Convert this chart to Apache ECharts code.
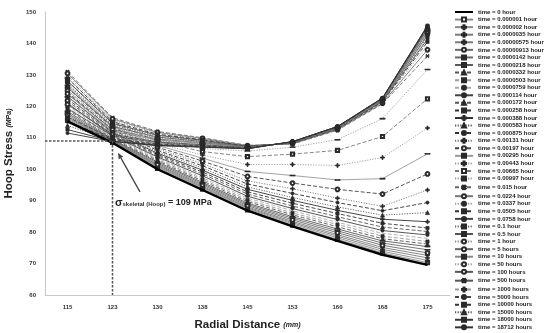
<!DOCTYPE html>
<html>
<head>
<meta charset="utf-8">
<script src="https://cdn.jsdelivr.net/npm/echarts@6/dist/echarts.min.js"></script>
<style>
  html, body { margin: 0; padding: 0; background: #fff; }
  #chart { width: 550px; height: 333px; }
</style>
</head>
<body>
<div id="chart"></div>
<script>
// Radial positions (mm) along the wall
const categories = ['115', '123', '130', '138', '145', '153', '160', '168', '175'];

// Hoop stress (MPa) at each radial position, one array per time step
const t00 = [115.2, 108.4, 100.0, 93.4, 86.8, 81.8, 77.2, 72.8, 69.6];
const t01 = [115.6, 108.5, 100.3, 93.7, 87.1, 82.2, 77.7, 73.4, 70.3];
const t02 = [116.0, 108.6, 100.6, 94.0, 87.4, 82.6, 78.2, 73.9, 71.0];
const t03 = [116.4, 108.7, 100.9, 94.3, 87.7, 83.0, 78.7, 74.5, 71.8];
const t04 = [116.8, 108.8, 101.2, 94.6, 88.0, 83.4, 79.2, 75.1, 72.6];
const t05 = [117.3, 109.0, 101.5, 95.0, 88.4, 83.9, 79.8, 75.8, 73.4];
const t06 = [117.8, 109.2, 101.9, 95.4, 88.8, 84.4, 80.4, 76.5, 74.4];
const t07 = [118.4, 109.4, 102.3, 95.8, 89.2, 84.9, 81.0, 77.2, 75.4];
const t08 = [119.0, 109.7, 102.7, 96.3, 89.7, 85.5, 81.7, 77.9, 76.2];
const t09 = [119.6, 110.0, 103.1, 96.8, 90.2, 86.1, 82.4, 78.7, 77.0];
const t10 = [120.3, 110.3, 103.5, 97.3, 90.8, 86.8, 83.1, 79.6, 78.0];
const t11 = [121.0, 110.6, 103.9, 97.9, 91.4, 87.5, 84.0, 80.5, 79.1];
const t12 = [121.7, 110.9, 104.3, 98.5, 92.1, 88.3, 84.9, 81.6, 80.2];
const t13 = [122.4, 111.3, 104.7, 99.1, 92.8, 89.2, 85.9, 82.8, 81.3];
const t14 = [123.1, 111.7, 105.1, 99.7, 93.6, 90.1, 86.9, 84.1, 83.3];
const t15 = [123.8, 112.1, 105.6, 100.4, 94.4, 91.0, 88.0, 85.4, 86.2];
const t16 = [124.5, 112.5, 106.0, 101.1, 95.3, 92.3, 89.4, 86.8, 89.4];
const t17 = [125.2, 112.9, 106.5, 101.8, 96.3, 93.8, 90.8, 88.2, 93.4];
const t18 = [125.9, 113.3, 107.0, 102.6, 97.7, 95.6, 93.6, 92.1, 98.5];
const t19 = [126.6, 113.7, 107.6, 103.5, 99.3, 98.0, 96.6, 97.0, 104.9];
const t20 = [127.3, 114.2, 108.2, 104.5, 101.5, 101.5, 101.2, 103.7, 113.1];
const t21 = [128.1, 114.8, 108.9, 105.6, 104.0, 104.8, 106.0, 110.4, 122.4];
const t22 = [129.0, 115.4, 109.6, 106.6, 105.8, 107.0, 109.4, 116.1, 131.7];
const t23 = [131.0, 116.4, 112.0, 110.0, 107.6, 108.0, 112.4, 120.8, 136.0];
const t24 = [130.5, 116.0, 111.7, 109.8, 107.5, 108.1, 112.6, 121.0, 138.0];
const t25 = [129.8, 115.6, 111.4, 109.6, 107.4, 108.2, 112.7, 121.2, 139.4];
const t26 = [129.0, 115.1, 111.1, 109.4, 107.3, 108.3, 112.8, 121.4, 140.5];
const t27 = [128.0, 114.6, 110.8, 109.2, 107.3, 108.3, 112.9, 121.6, 141.4];
const t28 = [127.0, 114.1, 110.5, 109.0, 107.2, 108.4, 113.0, 121.7, 142.1];
const t29 = [126.0, 113.6, 110.2, 108.8, 107.1, 108.4, 113.1, 121.8, 142.7];
const t30 = [125.0, 113.1, 109.9, 108.6, 107.0, 108.5, 113.1, 121.9, 143.2];
const t31 = [124.0, 112.6, 109.6, 108.4, 107.0, 108.5, 113.2, 122.0, 143.6];
const t32 = [123.0, 112.1, 109.3, 108.2, 106.9, 108.5, 113.2, 122.1, 144.0];
const t33 = [121.8, 111.6, 109.0, 108.0, 106.9, 108.6, 113.3, 122.2, 144.3];
const t34 = [120.6, 111.1, 108.7, 107.8, 106.8, 108.6, 113.3, 122.3, 144.6];
const t35 = [119.3, 110.6, 108.4, 107.6, 106.8, 108.6, 113.4, 122.4, 144.9];
const t36 = [118.0, 110.2, 108.2, 107.5, 106.7, 108.7, 113.4, 122.4, 145.1];
const t37 = [116.6, 109.8, 108.0, 107.4, 106.7, 108.7, 113.5, 122.5, 145.3];
const t38 = [115.2, 109.4, 107.8, 107.3, 106.6, 108.7, 113.5, 122.5, 145.4];
const t39 = [113.9, 109.1, 107.7, 107.2, 106.6, 108.8, 113.5, 122.6, 145.5];
const t40 = [112.6, 108.9, 107.6, 107.1, 106.5, 108.8, 113.6, 122.6, 145.6];
const t41 = [111.5, 108.8, 107.5, 107.0, 106.5, 108.8, 113.6, 122.7, 145.7];

const seriesValues = [t00, t01, t02, t03, t04, t05, t06, t07, t08, t09, t10, t11, t12, t13,
  t14, t15, t16, t17, t18, t19, t20, t21, t22, t23, t24, t25, t26, t27, t28, t29, t30, t31,
  t32, t33, t34, t35, t36, t37, t38, t39, t40, t41];

// Legend names, in time order
const timeNames = [
  'time = 0 hour', 'time = 0.000001 hour', 'time = 0.000002 hour', 'time = 0.0000035 hour',
  'time = 0.00000575 hour', 'time = 0.00000913 hour', 'time = 0.0000142 hour', 'time = 0.0000218 hour',
  'time = 0.0000332 hour', 'time = 0.0000503 hour', 'time = 0.0000759 hour', 'time = 0.000114 hour',
  'time = 0.000172 hour', 'time = 0.000258 hour', 'time = 0.000388 hour', 'time = 0.000583 hour',
  'time = 0.000875 hour', 'time = 0.00131 hour', 'time = 0.00197 hour', 'time = 0.00295 hour',
  'time = 0.00443 hour', 'time = 0.00665 hour', 'time = 0.00997 hour', 'time = 0.015 hour',
  'time = 0.0224 hour', 'time = 0.0337 hour', 'time = 0.0505 hour', 'time = 0.0758 hour',
  'time = 0.1 hour', 'time = 0.5 hour', 'time = 1 hour', 'time = 5 hours', 'time = 10 hours',
  'time = 50 hours', 'time = 100 hours', 'time = 500 hours', 'time = 1000 hours',
  'time = 5000 hours', 'time = 10000 hours', 'time = 15000 hours', 'time = 18000 hours',
  'time = 18712 hours'
];

// Y axis range
const yMin = 60, yMax = 150, yStep = 10;
// Skeletal point
const skeletalRadius = '123';
const skeletalStress = 109;

// Line / marker look for each time step: [dash, colour, marker]
const styles = [
  ['solid', '#000', 'none'], ['solid', '#8a8a8a', 'emptyRect'], ['solid', '#8a8a8a', 'plus'],
  ['solid', '#7a7a7a', 'plus'], ['solid', '#7a7a7a', 'plus'], ['solid', '#6a6a6a', 'emptyCircle'],
  ['solid', '#6a6a6a', 'dash'], ['solid', '#5a5a5a', 'dash'], ['dashed', '#555', 'triangle'],
  ['dashed', '#999', 'rect'], ['dashed', '#aaa', 'none'], ['solid', '#444', 'circle'],
  ['dashed', '#555', 'triangle'], ['dashed', '#333', 'rect'], ['solid', '#333', 'plus'],
  ['dotted', '#555', 'triangle'], ['dashed', '#333', 'circle'], ['dotted', '#777', 'plus'],
  ['dashed', '#444', 'emptyCircle'], ['solid', '#999', 'dash'], ['dotted', '#999', 'plus'],
  ['dashed', '#777', 'emptyRect'], ['dotted', '#999', 'dash'], ['dashed', '#666', 'cross'],
  ['solid', '#777', 'emptyCircle'], ['dotted', '#999', 'none'], ['dashed', '#333', 'rect'],
  ['solid', '#444', 'circle'], ['dotted', '#666', 'rect'], ['solid', '#555', 'rect'],
  ['dotted', '#888', 'emptyCircle'], ['solid', '#666', 'emptyCircle'], ['solid', '#888', 'dash'],
  ['dotted', '#999', 'emptyCircle'], ['solid', '#555', 'emptyCircle'], ['solid', '#555', 'cross'],
  ['dashed', '#999', 'plus'], ['dashed', '#444', 'circle'], ['dashed', '#333', 'rect'],
  ['dotted', '#555', 'triangle'], ['solid', '#333', 'rect'], ['solid', '#333', 'circle']
];

const PLUS = 'path://M3,0h2v3h3v2h-3v3h-2v-3h-3v-2h3z';
const dashMap = { solid: 'solid', dashed: [4, 2], dotted: [1.2, 1.4] };
function markerOf(kind) {
  switch (kind) {
    case 'plus': return { symbol: PLUS, symbolSize: 4, symbolRotate: 0 };
    case 'cross': return { symbol: PLUS, symbolSize: 4, symbolRotate: 45 };
    case 'dash': return { symbol: 'rect', symbolSize: [4.5, 1.2], symbolRotate: 0 };
    case 'rect': return { symbol: 'rect', symbolSize: 3.2, symbolRotate: 0 };
    case 'emptyRect': return { symbol: 'emptyRect', symbolSize: 3.2, symbolRotate: 0 };
    case 'circle': return { symbol: 'circle', symbolSize: 3.2, symbolRotate: 0 };
    case 'emptyCircle': return { symbol: 'emptyCircle', symbolSize: 3.8, symbolRotate: 0 };
    case 'triangle': return { symbol: 'triangle', symbolSize: 4, symbolRotate: 0 };
    default: return { symbol: 'none', symbolSize: 0, symbolRotate: 0 };
  }
}

const FONT = 'Liberation Sans, Arial, sans-serif';
const GRID = { left: 45, right: 100, top: 12, bottom: 38 };

const series = seriesValues.map((vals, i) => {
  const [dash, color, mk] = styles[i];
  const m = markerOf(mk);
  const first = i === 0;
  return {
    name: timeNames[i],
    type: 'line',
    data: vals,
    symbol: m.symbol,
    symbolSize: m.symbolSize,
    symbolRotate: m.symbolRotate,
    symbolKeepAspect: true,
    showSymbol: m.symbol !== 'none',
    z: first ? 5 : 2,
    lineStyle: { color: color, width: first ? 2.4 : 0.9, type: dashMap[dash] },
    itemStyle: { color: first ? '#000' : '#2a2a2a', borderColor: '#2a2a2a', borderWidth: 0.7 },
    emphasis: { disabled: true },
    animation: false
  };
});

// Legend entries; the zero-time curve shows its line only
const legendData = timeNames.map((n, i) => (i === 0 ? { name: n, itemStyle: { opacity: 0 } } : { name: n }));

const chart = echarts.init(document.getElementById('chart'), null, { renderer: 'canvas' });
chart.setOption({
  animation: false,
  backgroundColor: '#fff',
  grid: Object.assign({ containLabel: false, outerBoundsMode: 'none' }, GRID),
  legend: {
    orient: 'vertical',
    left: 454,
    top: 9,
    itemWidth: 18,
    itemHeight: 5,
    itemGap: 1.57,
    padding: 0,
    textStyle: { fontSize: 6, fontWeight: 'bold', color: '#222', fontFamily: FONT, lineHeight: 6 },
    data: legendData
  },
  xAxis: {
    type: 'category',
    data: categories,
    boundaryGap: true,
    axisLine: { show: true, lineStyle: { color: '#c8c8c8', width: 1 } },
    axisTick: { show: false },
    axisLabel: { fontSize: 6, fontWeight: 'bold', color: '#333', fontFamily: FONT, margin: 9 },
    name: '{a|Radial Distance }{b|(mm)}',
    nameLocation: 'middle',
    nameGap: 24,
    nameTextStyle: {
      rich: {
        a: { fontSize: 11.5, fontWeight: 'bold', color: '#222', fontFamily: FONT },
        b: { fontSize: 7, fontStyle: 'italic', fontWeight: 'bold', color: '#222', fontFamily: FONT }
      }
    }
  },
  yAxis: {
    type: 'value',
    min: yMin,
    max: yMax,
    interval: yStep,
    axisLine: { show: true, lineStyle: { color: '#c8c8c8', width: 1 } },
    axisTick: { show: false },
    splitLine: { show: false },
    axisLabel: { fontSize: 6, fontWeight: 'bold', color: '#333', fontFamily: FONT, margin: 9 },
    name: '{a|Hoop Stress }{b|(MPa)}',
    nameLocation: 'middle',
    nameRotate: 90,
    nameGap: 22,
    nameTextStyle: {
      rich: {
        a: { fontSize: 11.5, fontWeight: 'bold', color: '#222', fontFamily: FONT },
        b: { fontSize: 7, fontStyle: 'italic', fontWeight: 'bold', color: '#222', fontFamily: FONT }
      }
    }
  },
  series: series
});

// Skeletal-point guide lines, arrow and label
const px = chart.convertToPixel({ xAxisIndex: 0 }, skeletalRadius);
const pyS = chart.convertToPixel({ yAxisIndex: 0 }, skeletalStress);
const py60 = chart.convertToPixel({ yAxisIndex: 0 }, yMin);
const headX = px + 5.5, headY = chart.convertToPixel({ yAxisIndex: 0 }, 105.2);
const tailX = px + 27.5, tailY = chart.convertToPixel({ yAxisIndex: 0 }, 92.8);
const ang = Math.atan2(headY - tailY, headX - tailX);
const ah = 6, aw = 2.6;
const baseX = headX - ah * Math.cos(ang), baseY = headY - ah * Math.sin(ang);
const nx = -Math.sin(ang), ny = Math.cos(ang);

chart.setOption({
  graphic: [
    {
      type: 'line', silent: true, z: 10,
      shape: { x1: GRID.left, y1: pyS, x2: px, y2: pyS },
      style: { stroke: '#555', lineWidth: 1.5, lineDash: [2.5, 1.5] }
    },
    {
      type: 'line', silent: true, z: 10,
      shape: { x1: px, y1: pyS, x2: px, y2: py60 },
      style: { stroke: '#555', lineWidth: 1.5, lineDash: [2.5, 1.5] }
    },
    {
      type: 'line', silent: true, z: 10,
      shape: { x1: tailX, y1: tailY, x2: baseX, y2: baseY },
      style: { stroke: '#444', lineWidth: 1.3 }
    },
    {
      type: 'polygon', silent: true, z: 10,
      shape: { points: [[headX, headY], [baseX + nx * aw, baseY + ny * aw], [baseX - nx * aw, baseY - ny * aw]] },
      style: { fill: '#444' }
    },
    {
      type: 'text', silent: true, z: 10,
      x: px + 2.5, y: chart.convertToPixel({ yAxisIndex: 0 }, 89.3),
      style: {
        text: '{s|σ}{sub|skeletal (Hoop)}{v| = 109 MPa}',
        verticalAlign: 'middle',
        rich: {
          s: { fontSize: 11, fontWeight: 'bold', fill: '#222', fontFamily: FONT },
          sub: { fontSize: 6, fontWeight: 'bold', fill: '#333', fontFamily: FONT, padding: [3, 0, 0, 0] },
          v: { fontSize: 9, fontWeight: 'bold', fill: '#222', fontFamily: FONT }
        }
      }
    }
  ]
});
</script>
</body>
</html>
